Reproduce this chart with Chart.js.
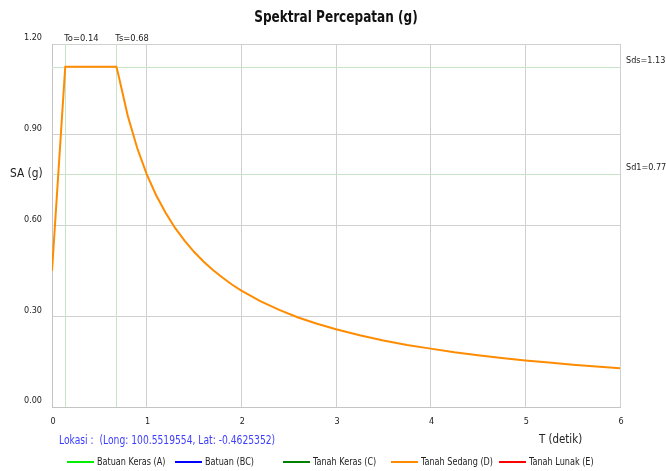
<!DOCTYPE html>
<html>
<head>
<meta charset="utf-8">
<script src="https://cdn.jsdelivr.net/npm/chart.js@4/dist/chart.umd.min.js"></script>
<style>
  html, body { margin: 0; padding: 0; background: #ffffff; }
  #wrap { width: 666px; height: 471px; }
</style>
</head>
<body>
<div id="wrap"><canvas id="c" width="666" height="471"></canvas></div>
<script>
// ---- data ----
const chartTitle = 'Spektral Percepatan (g)';
const periodT = [0, 0.14, 0.68, 0.70, 0.80, 0.90, 1.00, 1.10, 1.20, 1.30, 1.40, 1.50, 1.60, 1.70, 1.80, 1.90, 2.00,
                 2.20, 2.40, 2.60, 2.80, 3.00, 3.25, 3.50, 3.75, 4.00, 4.25, 4.50, 4.75, 5.00, 5.25, 5.50, 5.75, 6.00];
const saTanahSedang = [0.45, 1.125, 1.125, 1.100, 0.963, 0.856, 0.770, 0.700, 0.642, 0.592, 0.550, 0.513, 0.481, 0.453, 0.428, 0.405, 0.385,
                       0.350, 0.321, 0.296, 0.275, 0.257, 0.237, 0.220, 0.205, 0.193, 0.181, 0.171, 0.162, 0.154, 0.147, 0.140, 0.134, 0.128];
const seriesNames = ['Batuan Keras (A)', 'Batuan (BC)', 'Tanah Keras (C)', 'Tanah Sedang (D)', 'Tanah Lunak (E)'];
const seriesColors = ['#00ee00', '#0000ff', '#008000', '#ff8c00', '#ff0000'];
const yTicks = [0, 0.3, 0.6, 0.9, 1.2];
const xTicks = [0, 1, 2, 3, 4, 5, 6];
const T0 = 0.14, TS = 0.68, SDS = 1.125, SD1 = 0.77;
const refLabels = { t0: 'To=0.14', ts: 'Ts=0.68', sds: 'Sds=1.13', sd1: 'Sd1=0.77' };
const yAxisTitle = 'SA (g)';
const xAxisTitle = 'T (detik)';
const locationText = 'Lokasi :  (Long: 100.5519554, Lat: -0.4625352)';

const FONT = "'DejaVu Sans Condensed', 'DejaVu Sans', sans-serif";

const datasets = seriesNames.map((name, i) => ({
  label: name,
  data: name === 'Tanah Sedang (D)' ? periodT.map((t, k) => ({ x: t, y: saTanahSedang[k] })) : [],
  borderColor: seriesColors[i],
  backgroundColor: seriesColors[i],
  borderWidth: 2,
  pointRadius: 0,
  tension: 0,
  fill: false
}));

function drawText(ctx, text, x, y, font, sx, color, align) {
  ctx.save();
  ctx.font = font;
  ctx.fillStyle = color;
  ctx.textAlign = align || 'left';
  ctx.textBaseline = 'middle';
  ctx.translate(x, y);
  ctx.scale(sx, 1);
  ctx.fillText(text, 0, 0);
  ctx.restore();
}

const annot = {
  id: 'annot',
  beforeDatasetsDraw(chart) {
    const { ctx, chartArea: a, scales: { x, y } } = chart;
    ctx.save();
    ctx.strokeStyle = '#c8e3c8';
    ctx.lineWidth = 1;
    [T0, TS].forEach(v => {
      const px = Math.round(x.getPixelForValue(v)) + 0.5;
      ctx.beginPath(); ctx.moveTo(px, a.top); ctx.lineTo(px, a.bottom); ctx.stroke();
    });
    [SDS, SD1].forEach(v => {
      const py = Math.round(y.getPixelForValue(v)) + 0.5;
      ctx.beginPath(); ctx.moveTo(a.left, py); ctx.lineTo(a.right, py); ctx.stroke();
    });
    ctx.restore();
  },
  afterDraw(chart) {
    const { ctx, chartArea: a, scales: { x, y } } = chart;
    const dark = '#222222';
    drawText(ctx, chartTitle, 336, 18, "bold 16px " + FONT, 0.84, '#111111', 'center');
    drawText(ctx, refLabels.t0, x.getPixelForValue(T0) - 1, a.top - 5, "9.3px " + FONT, 1, dark);
    drawText(ctx, refLabels.ts, x.getPixelForValue(TS) - 1, a.top - 5, "9.3px " + FONT, 1, dark);
    drawText(ctx, refLabels.sds, a.right + 6, y.getPixelForValue(SDS) - 6, "9px " + FONT, 1, dark);
    drawText(ctx, refLabels.sd1, a.right + 6, y.getPixelForValue(SD1) - 6, "9px " + FONT, 1, dark);
    drawText(ctx, yAxisTitle, 10, 174, "11.8px " + FONT, 1, dark);
    drawText(ctx, xAxisTitle, 539, 440, "12px " + FONT, 0.95, dark);
    drawText(ctx, locationText, 59, 441, "12px " + FONT, 0.85, '#3c3cff');
    seriesNames.forEach((name, i) => {
      const x0 = 67 + i * 108;
      ctx.save();
      ctx.strokeStyle = seriesColors[i];
      ctx.lineWidth = 2;
      ctx.beginPath(); ctx.moveTo(x0, 462); ctx.lineTo(x0 + 27, 462); ctx.stroke();
      ctx.restore();
      drawText(ctx, name, x0 + 30, 462, "11px " + FONT, 0.82, dark);
    });
  }
};

new Chart(document.getElementById('c'), {
  type: 'line',
  data: { datasets },
  options: {
    responsive: false,
    animation: false,
    devicePixelRatio: 1,
    layout: { padding: { left: 0, right: 46, top: 44, bottom: 40 } },
    plugins: { legend: { display: false }, title: { display: false }, tooltip: { enabled: false } },
    scales: {
      x: {
        type: 'linear', min: 0, max: 6,
        afterBuildTicks(s) { s.ticks = xTicks.map(v => ({ value: v })); },
        afterFit(s) { s.height = 24; },
        grid: { color: '#d0d0d0', drawTicks: false },
        border: { color: '#c4c4c4' },
        ticks: { padding: 9, labelOffset: 1, color: '#222222', font: { family: FONT, size: 9 }, callback: v => String(v), maxRotation: 0 }
      },
      y: {
        type: 'linear', min: 0, max: 1.2,
        afterBuildTicks(s) { s.ticks = yTicks.map(v => ({ value: v })); },
        afterFit(s) { s.width = 52; },
        grid: { color: '#d0d0d0', drawTicks: false },
        border: { color: '#c4c4c4' },
        ticks: { padding: 10, labelOffset: -6, color: '#222222', font: { family: FONT, size: 9 }, callback: v => Number(v).toFixed(2) }
      }
    }
  },
  plugins: [annot]
});
</script>
</body>
</html>
